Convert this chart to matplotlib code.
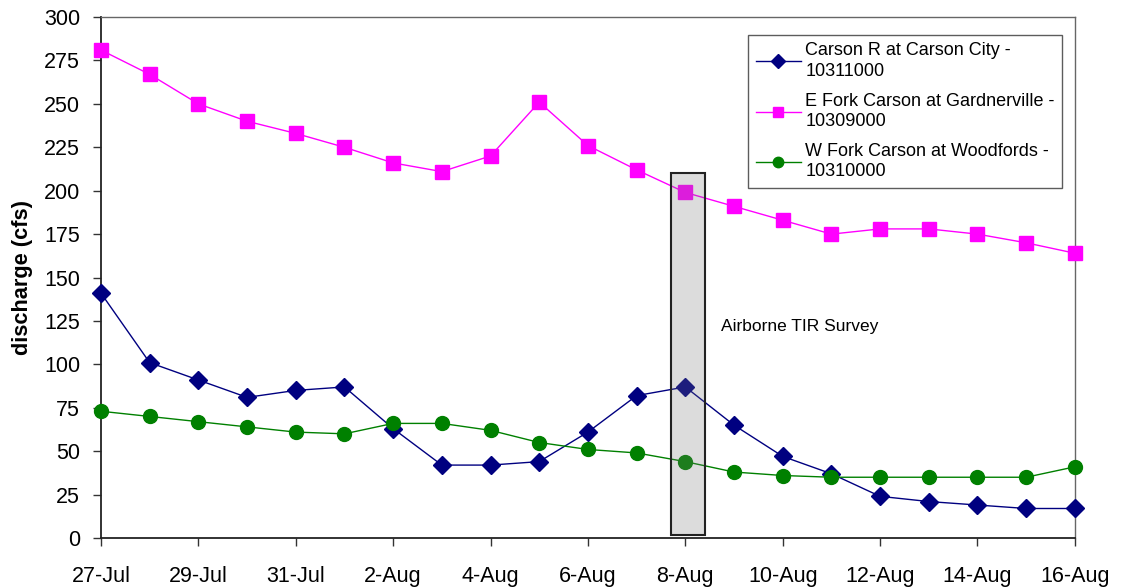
import matplotlib
matplotlib.use("Agg")
import matplotlib.pyplot as plt
import matplotlib.dates as mdates
from matplotlib.patches import Rectangle
import numpy as np
import datetime as dt

plt.rcParams['font.family'] = ['Liberation Sans', 'DejaVu Sans']

dates = [dt.date(2003, 7, 27) + dt.timedelta(days=i) for i in range(21)]
carson_city = [141, 101, 91, 81, 85, 87, 63, 42, 42, 44, 61, 82, 87, 65, 47, 37, 24, 21, 19, 17, 17]
e_fork = [281, 267, 250, 240, 233, 225, 216, 211, 220, 251, 226, 212, 199, 191, 183, 175, 178, 178, 175, 170, 164]
w_fork = [73, 70, 67, 64, 61, 60, 66, 66, 62, 55, 51, 49, 44, 38, 36, 35, 35, 35, 35, 35, 41]
labels = ["Carson R at Carson City -\n10311000",
          "E Fork Carson at Gardnerville -\n10309000",
          "W Fork Carson at Woodfords -\n10310000"]
survey_date = dt.date(2003, 8, 8)
survey_text = "Airborne TIR Survey"
ylabel = "discharge (cfs)"

fig = plt.figure(figsize=(11.22, 5.88), dpi=100)
ax = fig.add_axes([0.090, 0.085, 0.868, 0.886])

ax.plot(dates, carson_city, color='#000080', marker='D', markersize=9.5, lw=1.0,
        label=labels[0], clip_on=False, zorder=3)
ax.plot(dates, e_fork, color='#FF00FF', marker='s', markersize=10, lw=1.0,
        label=labels[1], clip_on=False, zorder=3)
ax.plot(dates, w_fork, color='#008000', marker='o', markersize=10, lw=1.0,
        label=labels[2], clip_on=False, zorder=3)

sx = mdates.date2num(survey_date)
rect = Rectangle((sx - 0.29, 2), 0.70, 208, facecolor='#777777', alpha=0.25,
                 edgecolor='none', zorder=4)
ax.add_patch(rect)
rect2 = Rectangle((sx - 0.29, 2), 0.70, 208, facecolor='none',
                  edgecolor='#222222', lw=1.5, zorder=5)
ax.add_patch(rect2)
ax.text(sx + 0.73, 122, survey_text, fontsize=12.5, va='center', ha='left')

ax.set_xlim(mdates.date2num(dates[0]), mdates.date2num(dates[-1]))
ax.set_ylim(0, 300)
ax.set_yticks(np.arange(0, 301, 25))
ax.set_xticks(dates[::2])
ax.set_xticklabels([d.strftime('%-d-%b') for d in dates[::2]])
ax.tick_params(axis='both', labelsize=15.5, direction='out', length=6, width=1,
               colors='#333333', labelcolor='black')
ax.tick_params(axis='x', pad=14)
ax.tick_params(axis='y', pad=9)
ax.set_ylabel(ylabel, fontsize=15.7, fontweight='bold')
ax.yaxis.set_label_coords(-0.070, 0.5)

for s in ['left', 'bottom']:
    ax.spines[s].set_color('#222222')
    ax.spines[s].set_linewidth(1.3)
for s in ['top', 'right']:
    ax.spines[s].set_color('#666666')
    ax.spines[s].set_linewidth(1.0)

leg = ax.legend(loc='upper right', bbox_to_anchor=(0.9867, 0.9655), borderaxespad=0,
                fontsize=13, frameon=True, fancybox=False, edgecolor='#333333',
                borderpad=0.4, labelspacing=0.7, handlelength=2.5,
                handletextpad=0.25, markerscale=0.75)
leg.get_frame().set_linewidth(1.0)
for t in leg.get_texts():
    t.set_linespacing(1.28)

fig.savefig('out.png', dpi=100)
